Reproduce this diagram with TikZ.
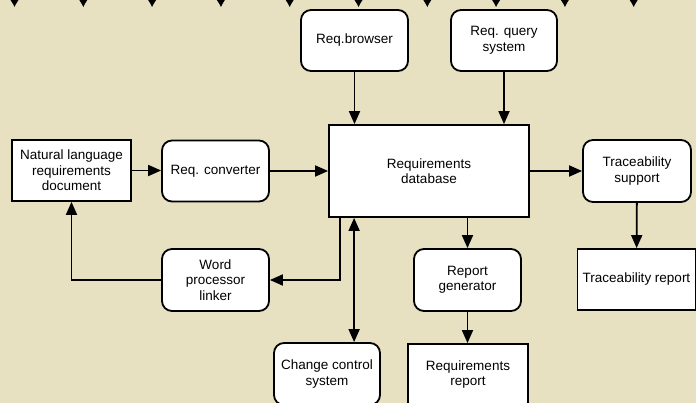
\documentclass[tikz,border=0pt]{standalone}
\usepackage{fontspec}
\setmainfont{Liberation Sans}
\usepackage{xcolor}
\usetikzlibrary{arrows.meta,positioning,calc}
\definecolor{parch}{RGB}{231,225,194}
\begin{document}
\begin{tikzpicture}[
  x=1pt,y=-1pt,
  box/.style={draw,fill=white,align=center,inner sep=2pt,font=\fontsize{13.5}{15.5}\selectfont},
  rbox/.style={box,rounded corners=10pt},
  >={Triangle[length=13pt,width=11pt]},line width=1.8pt]
\fill[parch] (0,0) rectangle (696,403);
\useasboundingbox (0,0) rectangle (696,403);
\foreach \i in {0,...,9}
  \fill ({14.5+68.8*\i-4},0) -- ({14.5+68.8*\i+4},0) -- ({14.5+68.8*\i+1.5},4) -- ({14.5+68.8*\i},7) -- ({14.5+68.8*\i-1.5},4) -- cycle;
\node[box,minimum width=119pt,minimum height=61pt] (nl) at (71.5,170.5) {Natural language\\requirements\\document};
\node[rbox,minimum width=107pt,minimum height=61pt] (conv) at (215.5,171) {Req. converter};
\node[box,minimum width=200pt,minimum height=92pt] (db) at (429,171) {Requirements\\database};
\node[rbox,minimum width=107pt,minimum height=61pt] (brw) at (354.5,40.5) {Req.browser};
\node[rbox,minimum width=106pt,minimum height=61pt] (qry) at (504,40.5) {Req. query\\system};
\node[rbox,minimum width=108pt,minimum height=62pt] (trs) at (637,171) {Traceability\\support};
\node[box,minimum width=118pt,minimum height=61pt] (trr) at (636.5,279.5) {Traceability report};
\node[rbox,minimum width=107pt,minimum height=62pt] (rgen) at (467.5,280) {Report\\generator};
\node[rbox,minimum width=107pt,minimum height=62pt] (wpl) at (215.5,280) {Word\\processor\\linker};
\node[rbox,minimum width=106pt,minimum height=62pt] (ccs) at (327,374) {Change control\\system};
\node[box,minimum width=120pt,minimum height=61pt] (rrep) at (468,374.5) {Requirements\\report};
\draw[->] (brw.south)--(brw.south |- db.north);
\draw[->] (qry.south)--(qry.south |- db.north);
\draw[->] (nl.east)--(nl.east -| conv.west);
\draw[->] (conv)--(db);
\draw[->] (db)--(trs);
\draw[->] (trs)--(trr);
\draw[->] (rgen.north |- db.south)--(rgen.north);
\draw[->] (rgen.south)--(rgen.south |- rrep.north);
\draw[->] ([xshift=12pt]db.south west) |- (wpl.east);
\draw[->] (wpl.west) -| (nl.south);
\draw[<->] ([xshift=26pt]db.south west)--([xshift=26pt]db.south west |- ccs.north);
\end{tikzpicture}
\end{document}
